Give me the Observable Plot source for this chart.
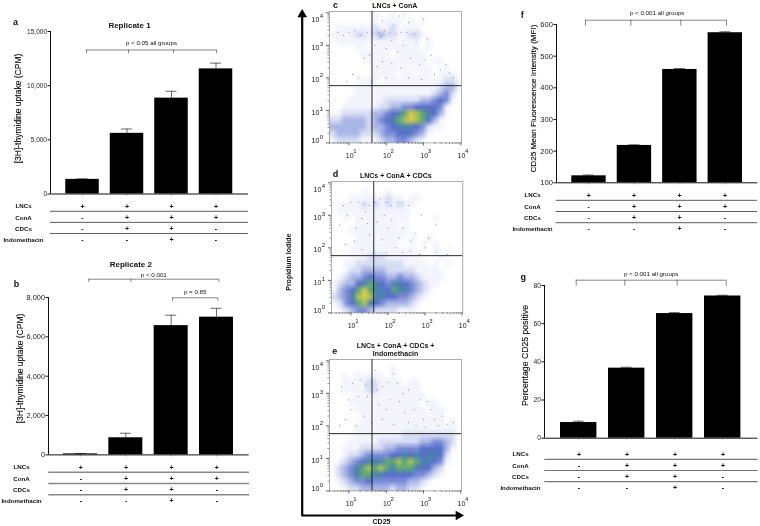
<!DOCTYPE html>
<html><head><meta charset="utf-8">
<script src="https://cdn.jsdelivr.net/npm/d3@7"></script>
<script src="https://cdn.jsdelivr.net/npm/@observablehq/plot@0.6"></script>
<style>
html,body{margin:0;padding:0;background:#fff}
#fig{position:relative;width:760px;height:526px;overflow:hidden;font-family:"Liberation Sans",Arial,sans-serif;filter:blur(0.3px)}
#fig svg{position:absolute}
</style></head><body><div id="fig"></div>
<script>
// ---------- data ----------
const groups = ["LNCs","LNCs + ConA + CDCs","LNCs + ConA + CDCs + Indomethacin","LNCs + ConA"];
const replicate1 = [1350, 5600, 8850, 11550];
const replicate1Err = [1400, 6000, 9480, 12080];
const replicate2 = [50, 870, 6570, 7000];
const replicate2Err = [68, 1100, 7100, 7450];
const mfi = [122, 218, 458, 574];
const mfiErr = [124.5, 220, 461, 577];
const pctCD25 = [8.2, 36.7, 65.3, 74.5];
const pctCD25Err = [8.9, 37.2, 65.8, 74.9];
const rowNames = ["LNCs","ConA","CDCs","Indomethacin"];
const rowLNCs = ["+","+","+","+"];
const rowConA = ["-","+","+","+"];
const rowCDCs = ["-","+","+","-"];
const rowIndo = ["-","-","+","-"];
const flowDecades = [0,1,2,3,4];
// density: rows top to bottom, columns left to right, 0 empty … 9 hottest
const densityC = [
"0000000100101000000000","0000000101110101000000","0111111211211110000000","1111221232211221000000",
"0111111111111110100000","0000110111111110100000","0000011111011111000000","0000001111111111011000",
"0000000111111011100100","0000000111101101101110","0000011101111111111221","0000111111111111112331",
"0000111111111111123420","0001111112222223345410","0011111122334455554100","1122222334567987653100",
"2233332345678987531000","3333332334566654211000","2333322234455543100000","1222211123344321000000"];
const densityD = [
"0000000000000000000000","0000010001000000000000","0001111112110110000000","0111121212121100000000",
"0111111111111000000000","0010111111111000010000","0000111111101000000000","0001111111111000000000",
"0000111111110100100000","0000111111100101010000","0001111111111100010100","0001112221111110001000",
"0011222222221111010100","0012233332222211110000","0123345443343321111000","1233567654665432110000",
"1345797665766432100000","2346898665544321000000","1245786543333210000000","0123443222211100000000"];
const densityE = [
"0000000000000000000000","0000000000100000000000","0010111110100000000000","0011112211110110000000",
"0011112211111110000000","0000111111111111000000","0001111111111110110000","0000111111111111011000",
"0000011111111111111000","0000011111111111111010","0000111111111111111110","0000111111112222222220",
"0001111122222223344320","0011122223344445555310","0012234444556565665200","0123456667787876654100",
"0234678787677765532000","0234677665555544321000","0123445444444332100000","0012233333233221000000"];
// isolated events as log10 pairs (CD25, propidium iodide)
const sparseC = [[0.7,3.4],[1.0,3.4],[1.3,3.3],[1.5,3.4],[1.8,3.4],[2.1,3.4],[2.4,3.4],[1.7,3.0],[2.0,2.9],[2.3,2.8],[2.8,3.1],[1.9,2.5],[2.4,2.3],[2.9,2.4],[3.3,2.1],[3.6,2.4],[1.1,2.1],[3.0,3.8],[2.2,3.6],[2.6,3.7],[1.6,1.9],[3.2,2.7],[2.6,2.0],[1.4,2.6],[3.8,2.0],[2.0,2.0],
[0.85,3.3],[1.15,3.45],[1.65,3.35],[1.95,3.45],[2.25,3.35],[2.55,3.4],[2.75,3.35],[1.85,3.25],[2.15,3.15],[2.45,3.0],[1.55,2.7],[1.75,2.35],[2.15,2.45],[2.65,2.6],[3.05,2.55],[3.45,2.25],[3.7,2.15],[2.95,1.95],[1.25,2.0],[0.95,1.9],[3.1,3.2],[2.35,3.9],[1.9,3.75]];
const sparseD = [[0.8,3.3],[1.2,3.4],[1.5,3.3],[1.8,3.5],[2.1,3.3],[2.4,3.4],[1.3,2.9],[1.7,2.8],[2.0,2.6],[2.3,2.3],[0.9,3.0],[1.5,2.4],[1.9,3.0],[2.6,2.2],[3.3,2.7],[3.0,2.0],[1.1,2.2],[1.6,2.1],[2.2,2.0],[3.6,1.8],[0.7,2.7],[2.9,3.0],[2.6,1.9],[1.4,3.1],
[1.0,3.4],[1.35,3.35],[1.65,3.4],[1.95,3.4],[2.25,3.4],[2.55,3.3],[1.15,2.6],[1.45,2.75],[1.85,2.25],[2.1,2.85],[2.4,2.6],[2.75,2.45],[3.1,2.3],[0.85,2.1],[1.3,1.95],[1.95,1.85],[2.4,1.85],[2.85,1.8],[3.3,1.85]];
const sparseE = [[0.8,3.2],[1.3,3.4],[1.6,3.4],[1.9,3.2],[2.3,3.3],[1.0,2.8],[1.5,2.9],[2.1,2.8],[2.6,3.1],[2.9,2.8],[3.2,2.5],[3.5,2.3],[1.4,2.3],[1.9,2.2],[2.5,2.4],[3.0,2.2],[3.8,2.1],[0.9,2.2],[2.2,3.6],[1.7,3.7],[3.4,2.0],[2.8,2.0],[1.2,2.0],[2.0,2.5],
[1.1,3.3],[1.45,3.25],[1.75,3.1],[2.05,3.35],[1.25,2.9],[1.8,2.65],[2.35,2.75],[2.75,2.5],[3.1,2.75],[3.3,2.2],[3.65,2.05],[1.05,2.5],[1.6,2.1],[2.2,2.05],[2.6,2.1],[3.05,1.95],[0.75,2.0],[2.45,3.0]];

// ---------- layout ----------
const fig = document.getElementById("fig");
const FONT = '"Liberation Sans", Arial, sans-serif';
function place(svg, left, top){ svg.style.left = left+"px"; svg.style.top = top+"px"; fig.appendChild(svg); }
const plotStyle = {background:"transparent", overflow:"visible", fontFamily:FONT};

function barPanel(c){
  const step = (c.c4-c.c1)/3;
  const xDomain = [(c.left-c.c1)/step, (c.right-c.c1)/step];
  const rows = c.values.map((v,i)=>({i, v, e:c.errs[i]}));
  const halfBar = c.barW/2/step, halfCap = 5.5/step;
  const yPerPx = (c.domain[1]-c.domain[0])/(c.y0-c.yT);
  const svg = Plot.plot({
    width:c.right-c.left+28, height:c.y0-c.yT+10,
    marginLeft:26, marginRight:2, marginTop:5, marginBottom:5,
    style:plotStyle,
    x:{type:"linear",domain:xDomain,axis:null},
    y:{domain:c.domain,axis:null},
    marks:[
      Plot.ruleX(rows,{x:"i",y1:"v",y2:"e",stroke:"#444",strokeWidth:0.8}),
      Plot.ruleY(rows,{x1:d=>d.i-halfCap,x2:d=>d.i+halfCap,y:"e",stroke:"#444",strokeWidth:0.8}),
      Plot.rectY(rows,{x1:d=>d.i-halfBar,x2:d=>d.i+halfBar,y1:()=>c.domain[0],y2:"v",fill:"#000"}),
      Plot.ruleY([c.domain[0]],{stroke:"#111",strokeWidth:1}),
      Plot.ruleX([xDomain[0]],{stroke:"#111",strokeWidth:1}),
      Plot.axisY({ticks:c.ticks,tickFormat:c.fmt,tickSize:2.5,tickPadding:1,fontSize:c.tickFont,fill:"#222",stroke:"#111",label:null}),
      Plot.ruleX(rows,{x:"i",y1:()=>c.domain[0],y2:()=>c.domain[0]-2*yPerPx,stroke:"#555",strokeWidth:0.6})
    ]
  });
  place(svg, c.left-26, c.yT-5);
  // treatment table
  const pad = 8, labelRoom = c.left-c.labelX+30;
  const tableRows = [rowLNCs,rowConA,rowCDCs,rowIndo].flatMap((r,ri)=>r.map((s,i)=>({i,ri,s})));
  const rowLabels = rowNames.map((n,ri)=>({n,ri}));
  const t = Plot.plot({
    width:c.right-c.left+labelRoom+2, height:3*c.rowStep+2*pad,
    marginLeft:labelRoom, marginRight:2, marginTop:pad, marginBottom:pad,
    style:plotStyle,
    x:{type:"linear",domain:xDomain,axis:null},
    y:{domain:[0,3],reverse:true,axis:null},
    marks:[
      Plot.ruleY([0.43,1.43,2.43],{stroke:c.lineColor||"#333",strokeWidth:c.lineW||0.8}),
      Plot.text(tableRows,{x:"i",y:"ri",text:"s",fontSize:7,fontWeight:"bold",fill:"#111"}),
      Plot.text(rowLabels,{x:()=>xDomain[0]+(c.labelX-c.left)/step,y:"ri",text:"n",fontSize:6.2,fontWeight:"bold",fill:"#111"})
    ]
  });
  place(t, c.left-labelRoom, c.row1-pad);
}

barPanel({left:50,right:248,yT:31,y0:193.5,c1:82,c4:215.5,barW:33.5,values:replicate1,errs:replicate1Err,domain:[0,15000],ticks:[0,5000,10000,15000],fmt:d3.format(","),row1:206.3,rowStep:11.1,labelX:23,tickFont:6.5});
barPanel({left:48.3,right:249,yT:297.3,y0:454.7,c1:80.3,c4:216.3,barW:34,values:replicate2,errs:replicate2Err,domain:[0,8000],ticks:[0,2000,4000,6000,8000],fmt:d3.format(","),row1:466.7,rowStep:11.2,labelX:21,lineColor:"#888",lineW:1.4,tickFont:7.4});
barPanel({left:555.7,right:757,yT:24,y0:182.3,c1:588.2,c4:724.5,barW:34.4,values:mfi,errs:mfiErr,domain:[100,600],ticks:[100,200,300,400,500,600],fmt:d=>d,row1:195,rowStep:11.2,labelX:532,tickFont:7.6});
barPanel({left:544.3,right:757.7,yT:285,y0:437.7,c1:578.5,c4:722.5,barW:36.4,values:pctCD25,errs:pctCD25Err,domain:[0,80],ticks:[0,20,40,60,80],fmt:d=>d,row1:453.7,rowStep:11.2,labelX:520,lineColor:"#777",lineW:1.2,tickFont:6.8});

// ---------- flow cytometry (axes run in decades, labelled as powers of ten) ----------
const minorTicks = [0,1,2,3].flatMap(k=>[2,3,4,5,6,7,8,9].map(m=>k+Math.log10(m)));
const densityColor = {type:"linear",domain:[0,1,2,3,4,5,6,7,8,9],
  range:["#ffffff","#f3f4fc","#d6dcf3","#aab6e6","#7c8dd8","#5a6fcb","#4d82b0","#5fa878","#a8c45a","#d9c94a"]};
const yLabelAt = [0.06,0.93,1.95,2.93,3.78];
function flowPanel(f){
  const X=[0.477,4.02], Y=[0,4.04];
  const values = f.density.flatMap(r=>Array.from(r,Number));
  const w=f.right-f.left, h=f.bottom-f.top;
  const xPerPx=(X[1]-X[0])/w, yPerPx=(Y[1]-Y[0])/h;
  const xDec = flowDecades.slice(1);
  const inX = minorTicks.filter(v=>v>X[0]);
  const inY = minorTicks;
  const yLab = flowDecades.map(d=>({d,at:yLabelAt[d]}));
  const svg = Plot.plot({
    width:w+30,height:h+24,marginLeft:24,marginRight:6,marginTop:4,marginBottom:20,
    style:plotStyle,
    x:{type:"linear",domain:X,axis:null,label:null},
    y:{type:"linear",domain:Y,axis:null,label:null},
    color:densityColor,
    marks:[
      Plot.raster(values,{width:22,height:20,x1:X[0],x2:X[1],y1:Y[1],y2:Y[0],fill:d=>d,imageRendering:"auto"}),
      Plot.dot(f.sparse,{x:d=>d[0],y:d=>d[1],r:0.55,fill:"#5f74cf"}),
      Plot.frame({stroke:"#999",strokeWidth:0.8}),
      Plot.ruleX([f.gateX],{stroke:"#111",strokeWidth:0.9}),
      Plot.ruleY([f.gateY],{stroke:"#111",strokeWidth:0.9}),
      Plot.ruleX(xDec,{y1:()=>Y[0],y2:()=>Y[0]-3*yPerPx,stroke:"#222",strokeWidth:0.7}),
      Plot.ruleX(inX,{y1:()=>Y[0],y2:()=>Y[0]-1.5*yPerPx,stroke:"#222",strokeWidth:0.5}),
      Plot.ruleY(flowDecades,{x1:()=>X[0],x2:()=>X[0]-3*xPerPx,stroke:"#222",strokeWidth:0.7}),
      Plot.ruleY(inY,{x1:()=>X[0],x2:()=>X[0]-1.5*xPerPx,stroke:"#222",strokeWidth:0.5}),
      Plot.text(xDec,{x:d=>d,y:()=>Y[0],dy:12.5,dx:0.7,text:()=>"10",fontSize:7,fill:"#222"}),
      Plot.text(xDec,{x:d=>d,y:()=>Y[0],dy:8,dx:6,text:d=>String(d),fontSize:6,fill:"#222"}),
      Plot.text(yLab,{x:()=>X[0],y:"at",dx:-14,text:()=>"10",fontSize:7,fill:"#222"}),
      Plot.text(yLab,{x:()=>X[0],y:"at",dx:-8,dy:-4,text:d=>String(d.d),fontSize:6,fill:"#222"})
    ]
  });
  place(svg,f.left-24,f.top-4);
}
const gateX = 1.617, gateY = 1.76;
flowPanel({left:328.7,right:460.7,top:11.3,bottom:142.7,density:densityC,sparse:sparseC,gateX,gateY});
flowPanel({left:330.7,right:462,top:181.3,bottom:312.7,density:densityD,sparse:sparseD,gateX,gateY});
flowPanel({left:329,right:461,top:359.3,bottom:490.7,density:densityE,sparse:sparseE,gateX,gateY});

// ---------- annotation layer (pixel coordinates) ----------
const L = (t,x,y)=>({t,x,y});
const panelLetters = [L("a",15,22),L("b",16,283.7),L("c",335,5),L("d",335,173.3),L("e",334.3,351),L("f",521.7,14.7),L("g",522.7,277)];
const replicateTitles = [L("Replicate 1",129,24.5),L("Replicate 2",130.3,263.5)];
const flowTitles = [L("LNCs + ConA",394.3,5.5),L("LNCs + ConA + CDCs",395.3,175.5),L("LNCs + ConA + CDCs +",395,345.3),L("Indomethacin",395,353.5),L("CD25",381,521.7)];
const pLabels = [L("p < 0.05 all groups",151,43),L("p < 0.001",153.3,274.3),L("p = 0.85",194.7,292),L("p < 0.001 all groups",656.7,12.3),L("p < 0.001 all groups",650.7,274)];
const yTitles = [
  {...L("[3H]-thymidine uptake (CPM)",18,108),size:8.5},
  {...L("[3H]-thymidine uptake (CPM)",20,368),size:8.5},
  {...L("CD25 Mean Fluorescence Intensity (MFI)",533.3,98),size:8.1},
  {...L("Percentage CD25 positive",525,355),size:8.7}
];
const brackets = [
  {y:49.5,drop:3.5,xs:[86,128,173,216]},
  {y:278.7,drop:3.2,xs:[88.3,130.3,218.3]},
  {y:297.3,drop:3.4,xs:[172,217.3]},
  {y:19.7,drop:6,xs:[585,630.3,680.3,726]},
  {y:279.7,drop:6,xs:[575.7,624.3,676.7,725.7]}
];
const bracketH = brackets.map(b=>({x1:b.xs[0],x2:b.xs[b.xs.length-1],y:b.y}));
const bracketV = brackets.flatMap(b=>b.xs.map(x=>({x,y1:b.y,y2:b.y+b.drop})));
const axisPath = [[301.7,14],[301.7,515],[458,515]];
const textAt = {x:"x",y:"y",text:"t",fill:"#111"};
const over = Plot.plot({
  width:760,height:526,margin:0,style:plotStyle,
  x:{type:"identity",axis:null},y:{type:"identity",axis:null},
  marks:[
    Plot.ruleY(bracketH,{x1:"x1",x2:"x2",y:"y",stroke:"#555",strokeWidth:0.7}),
    Plot.ruleX(bracketV,{x:"x",y1:"y1",y2:"y2",stroke:"#555",strokeWidth:0.7}),
    Plot.line(axisPath,{x:d=>d[0],y:d=>d[1],stroke:"#000",strokeWidth:2.2}),
    Plot.dot([[301.7,14,0],[458,515,90]],{x:d=>d[0],y:d=>d[1],rotate:d=>d[2],symbol:"triangle",r:3.6,fill:"#000"}),
    Plot.text(panelLetters,{...textAt,fontSize:9,fontWeight:"bold"}),
    Plot.text(replicateTitles,{...textAt,fontSize:8,fontWeight:"bold"}),
    Plot.text(flowTitles,{...textAt,fontSize:7,fontWeight:"bold"}),
    Plot.text(pLabels,{...textAt,fontSize:6.2}),
    Plot.text(yTitles,{...textAt,fontSize:"size",rotate:-90,stroke:"#111",strokeWidth:0.15}),
    Plot.text([L("Propidium Iodide",288.3,261.7)],{...textAt,fontSize:7,fontWeight:"bold",rotate:-90})
  ]
});
place(over,0,0);
</script></body></html>
